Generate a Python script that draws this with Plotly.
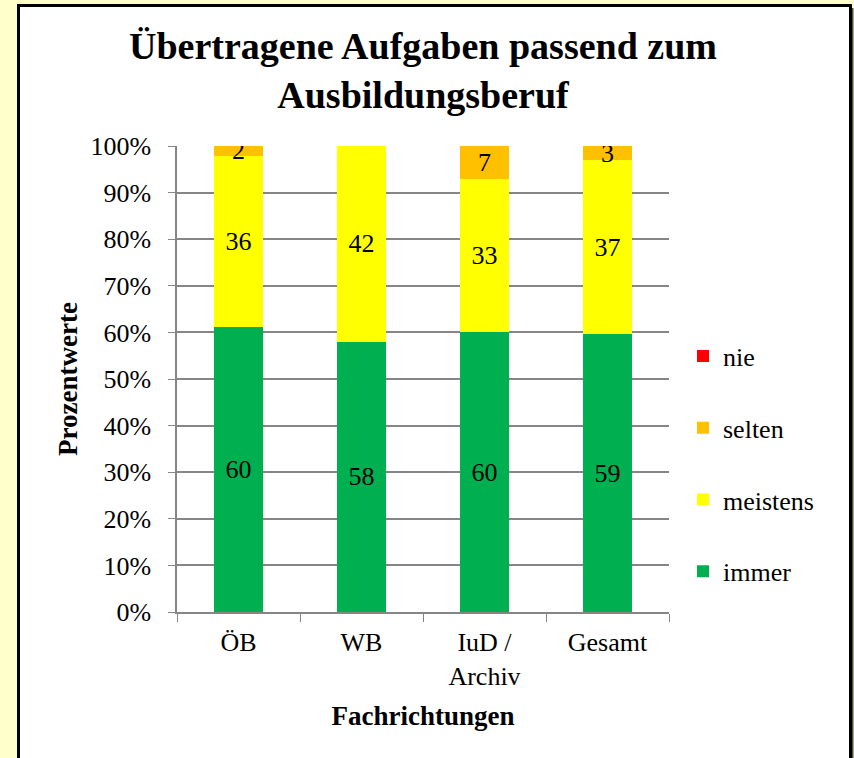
import plotly.graph_objects as go

categories = ["ÖB", "WB", "IuD /<br>Archiv", "Gesamt"]
immer = [60, 58, 60, 59]
meistens = [36, 42, 33, 37]
selten = [2, 0, 7, 3]
nie = [0, 0, 0, 0]
ytick_vals = list(range(0, 101, 10))
ytick_text = [f"{v}%" for v in ytick_vals]

series = [
    ("immer", immer, "#00B050", 4),
    ("meistens", meistens, "#FFFF00", 3),
    ("selten", selten, "#FFC000", 2),
    ("nie", nie, "#FF0000", 1),
]

FONT = "Liberation Serif, Times New Roman, serif"

fig = go.Figure()
for name, vals, color, rank in series:
    fig.add_trace(go.Bar(
        name=name, x=categories, y=vals,
        marker=dict(color=color, line=dict(width=0)),
        text=[str(v) if v else "" for v in vals],
        textposition="inside", insidetextanchor="middle", textangle=0,
        textfont=dict(family=FONT, size=26, color="black"),
        legendgroup=name, legendrank=rank, width=0.4,
    ))

# plot area in px: x 177..669, y 146..612
W, H = 854, 758
L, R, T, B = 177, 185, 146, 146
pw, ph = W - L - R, H - T - B

def px_x(p):
    return (p - L) / pw

def px_y(p):
    return (H - B - p) / ph

fig.add_shape(type="rect", xref="paper", yref="paper",
              x0=px_x(21.5), x1=px_x(853.5), y0=px_y(790), y1=px_y(8),
              fillcolor="#4d4d3a", line=dict(width=0), layer="below")
fig.add_shape(type="rect", xref="paper", yref="paper",
              x0=px_x(18.5), x1=px_x(850.5), y0=px_y(790), y1=px_y(5.5),
              fillcolor="white", line=dict(color="black", width=3), layer="below")

fig.update_layout(
    width=W, height=H,
    margin=dict(l=L, r=R, t=T, b=B, autoexpand=False),
    barmode="stack", barnorm="percent",
    paper_bgcolor="#FFFFCC", plot_bgcolor="rgba(0,0,0,0)",
    font=dict(family=FONT, size=26, color="black"),
    uniformtext=dict(minsize=26, mode="show"),
    title=dict(text="<b>Übertragene Aufgaben passend zum<br>Ausbildungsberuf</b>",
               x=0.5, xref="paper", xanchor="center",
               y=1 - 59 / H, yref="container", yanchor="top",
               font=dict(family=FONT, size=38, color="black")),
    legend=dict(x=px_x(683), xanchor="left", y=px_y(464), yanchor="middle",
                traceorder="grouped", tracegroupgap=35,
                font=dict(family=FONT, size=26, color="black"),
                bgcolor="rgba(0,0,0,0)"),
    showlegend=True,
)
fig.update_xaxes(
    showline=True, linecolor="#868686", linewidth=1.5,
    ticks="outside", ticklen=8, tickcolor="#868686", tickson="boundaries",
    ticklabelstandoff=6,
    tickfont=dict(family=FONT, size=26, color="black"),
    title=dict(text="<b>Fachrichtungen</b>", standoff=16,
               font=dict(family=FONT, size=27, color="black")),
    showgrid=False, automargin=False,
)
fig.update_yaxes(
    range=[0, 100], tickmode="array", tickvals=ytick_vals, ticktext=ytick_text,
    showline=True, linecolor="#868686", linewidth=1.5,
    ticks="outside", ticklen=7, tickcolor="#868686",
    ticklabelstandoff=12,
    showgrid=True, gridcolor="#868686", gridwidth=1.5,
    tickfont=dict(family=FONT, size=26, color="black"),
    title=dict(text="<b>Prozentwerte</b>", standoff=5,
               font=dict(family=FONT, size=27, color="black")),
    zeroline=False, automargin=False,
)

fig.write_html(
    "out.html",
    config={"displayModeBar": False},
    post_script="document.body.style.margin='0';document.body.style.background='#FFFFCC';",
)
